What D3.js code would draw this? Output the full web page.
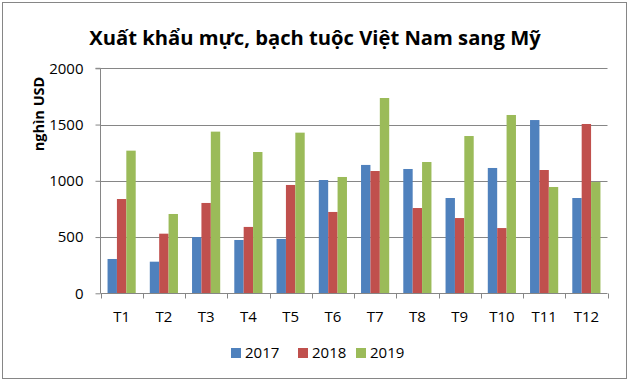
<!DOCTYPE html>
<html><head><meta charset="utf-8">
<script src="https://cdn.jsdelivr.net/npm/d3@7"></script>
<style>body{margin:0;background:#fff}svg{display:block}</style>
</head><body>
<script>
const categories = ["T1","T2","T3","T4","T5","T6","T7","T8","T9","T10","T11","T12"];
const series = ["2017","2018","2019"];
const v2017 = [305,281,500,474,483,1007,1141,1105,847,1114,1540,847];
const v2018 = [838,530,803,590,963,723,1087,758,669,580,1096,1505];
const v2019 = [1268,705,1437,1256,1428,1034,1736,1167,1398,1585,945,989];
const yTicks = [0,500,1000,1500,2000];
const colors = ["#4F81BD","#C0504D","#9BBB59"];
const values = [v2017,v2018,v2019];

(function(){
const W=632,H=384;
const font = "'Open Sans', 'Noto Sans', sans-serif";
const svg = d3.select("body").append("svg").attr("width",W).attr("height",H);
svg.append("rect").attr("x",2.5).attr("y",2.5).attr("width",624).attr("height",376)
  .attr("fill","#fff").attr("stroke","#868686").attr("stroke-width",1);

const pL=100.5,pR=607.5,pT=68.3,pB=293.3;
const x = d3.scaleBand().domain(categories).range([pL,pR]).paddingInner(0).paddingOuter(0);
const gapFrac = 1.5/4.5;
const xs = d3.scaleBand().domain(series).range([x.bandwidth()*gapFrac/2, x.bandwidth()*(1-gapFrac/2)]);
const y = d3.scaleLinear().domain([0,2000]).range([pB,pT]);

svg.append("g").selectAll("line").data(yTicks.filter(d=>d>0)).join("line")
  .attr("x1",pL).attr("x2",pR).attr("y1",d=>Math.round(y(d))+0.5).attr("y2",d=>Math.round(y(d))+0.5)
  .attr("stroke","#868686").attr("stroke-width",1);

const g = svg.append("g");
series.forEach((s,si)=>{
  g.selectAll(null).data(categories).join("rect")
    .attr("x",c=>x(c)+xs(s)).attr("width",xs.bandwidth())
    .attr("y",(c,i)=>y(values[si][i])).attr("height",(c,i)=>y(0)-y(values[si][i]))
    .attr("fill",colors[si]);
});

const ya = svg.append("g").attr("transform",`translate(${pL},0)`)
  .call(d3.axisLeft(y).tickValues(yTicks).tickSize(5).tickPadding(12).tickFormat(d3.format("d")));
ya.select(".domain").attr("stroke","#868686").attr("d",`M-5,${pT}H0V${pB}`);
ya.selectAll(".tick line").attr("stroke","#868686");
ya.selectAll("text").attr("font-family",font).attr("font-size",15).attr("fill","#000");

const xa = svg.append("g").attr("transform",`translate(0,${Math.round(pB)+0.5})`);
xa.append("line").attr("x1",pL).attr("x2",pR).attr("stroke","#868686");
xa.selectAll(".tk").data(categories.concat(["end"])).join("line")
  .attr("x1",(c,i)=>Math.round(pL+i*x.bandwidth())+0.5).attr("x2",(c,i)=>Math.round(pL+i*x.bandwidth())+0.5)
  .attr("y1",0).attr("y2",5).attr("stroke","#868686");
xa.selectAll("text").data(categories).join("text")
  .attr("x",c=>x(c)+x.bandwidth()/2).attr("y",28.5).attr("text-anchor","middle")
  .attr("font-family",font).attr("font-size",15).attr("fill","#000").text(c=>c);

svg.append("text").attr("x",315).attr("y",45).attr("text-anchor","middle")
  .attr("font-family",font).attr("font-weight","bold").attr("font-size",20.2).attr("fill","#000")
  .text("Xuất khẩu mực, bạch tuộc Việt Nam sang Mỹ");

svg.append("text").attr("transform","translate(44,114) rotate(-90)").attr("text-anchor","middle")
  .attr("font-family",font).attr("font-weight","bold").attr("font-size",14.5).attr("fill","#000")
  .text("nghìn USD");

const legX=[231,298,356];
const lg = svg.append("g");
series.forEach((s,i)=>{
  lg.append("rect").attr("x",legX[i]).attr("y",348).attr("width",10).attr("height",10).attr("fill",colors[i]);
  lg.append("text").attr("x",legX[i]+14).attr("y",358).attr("font-family",font).attr("font-size",15).attr("fill","#000").text(s);
});
})();
</script>
</body></html>
